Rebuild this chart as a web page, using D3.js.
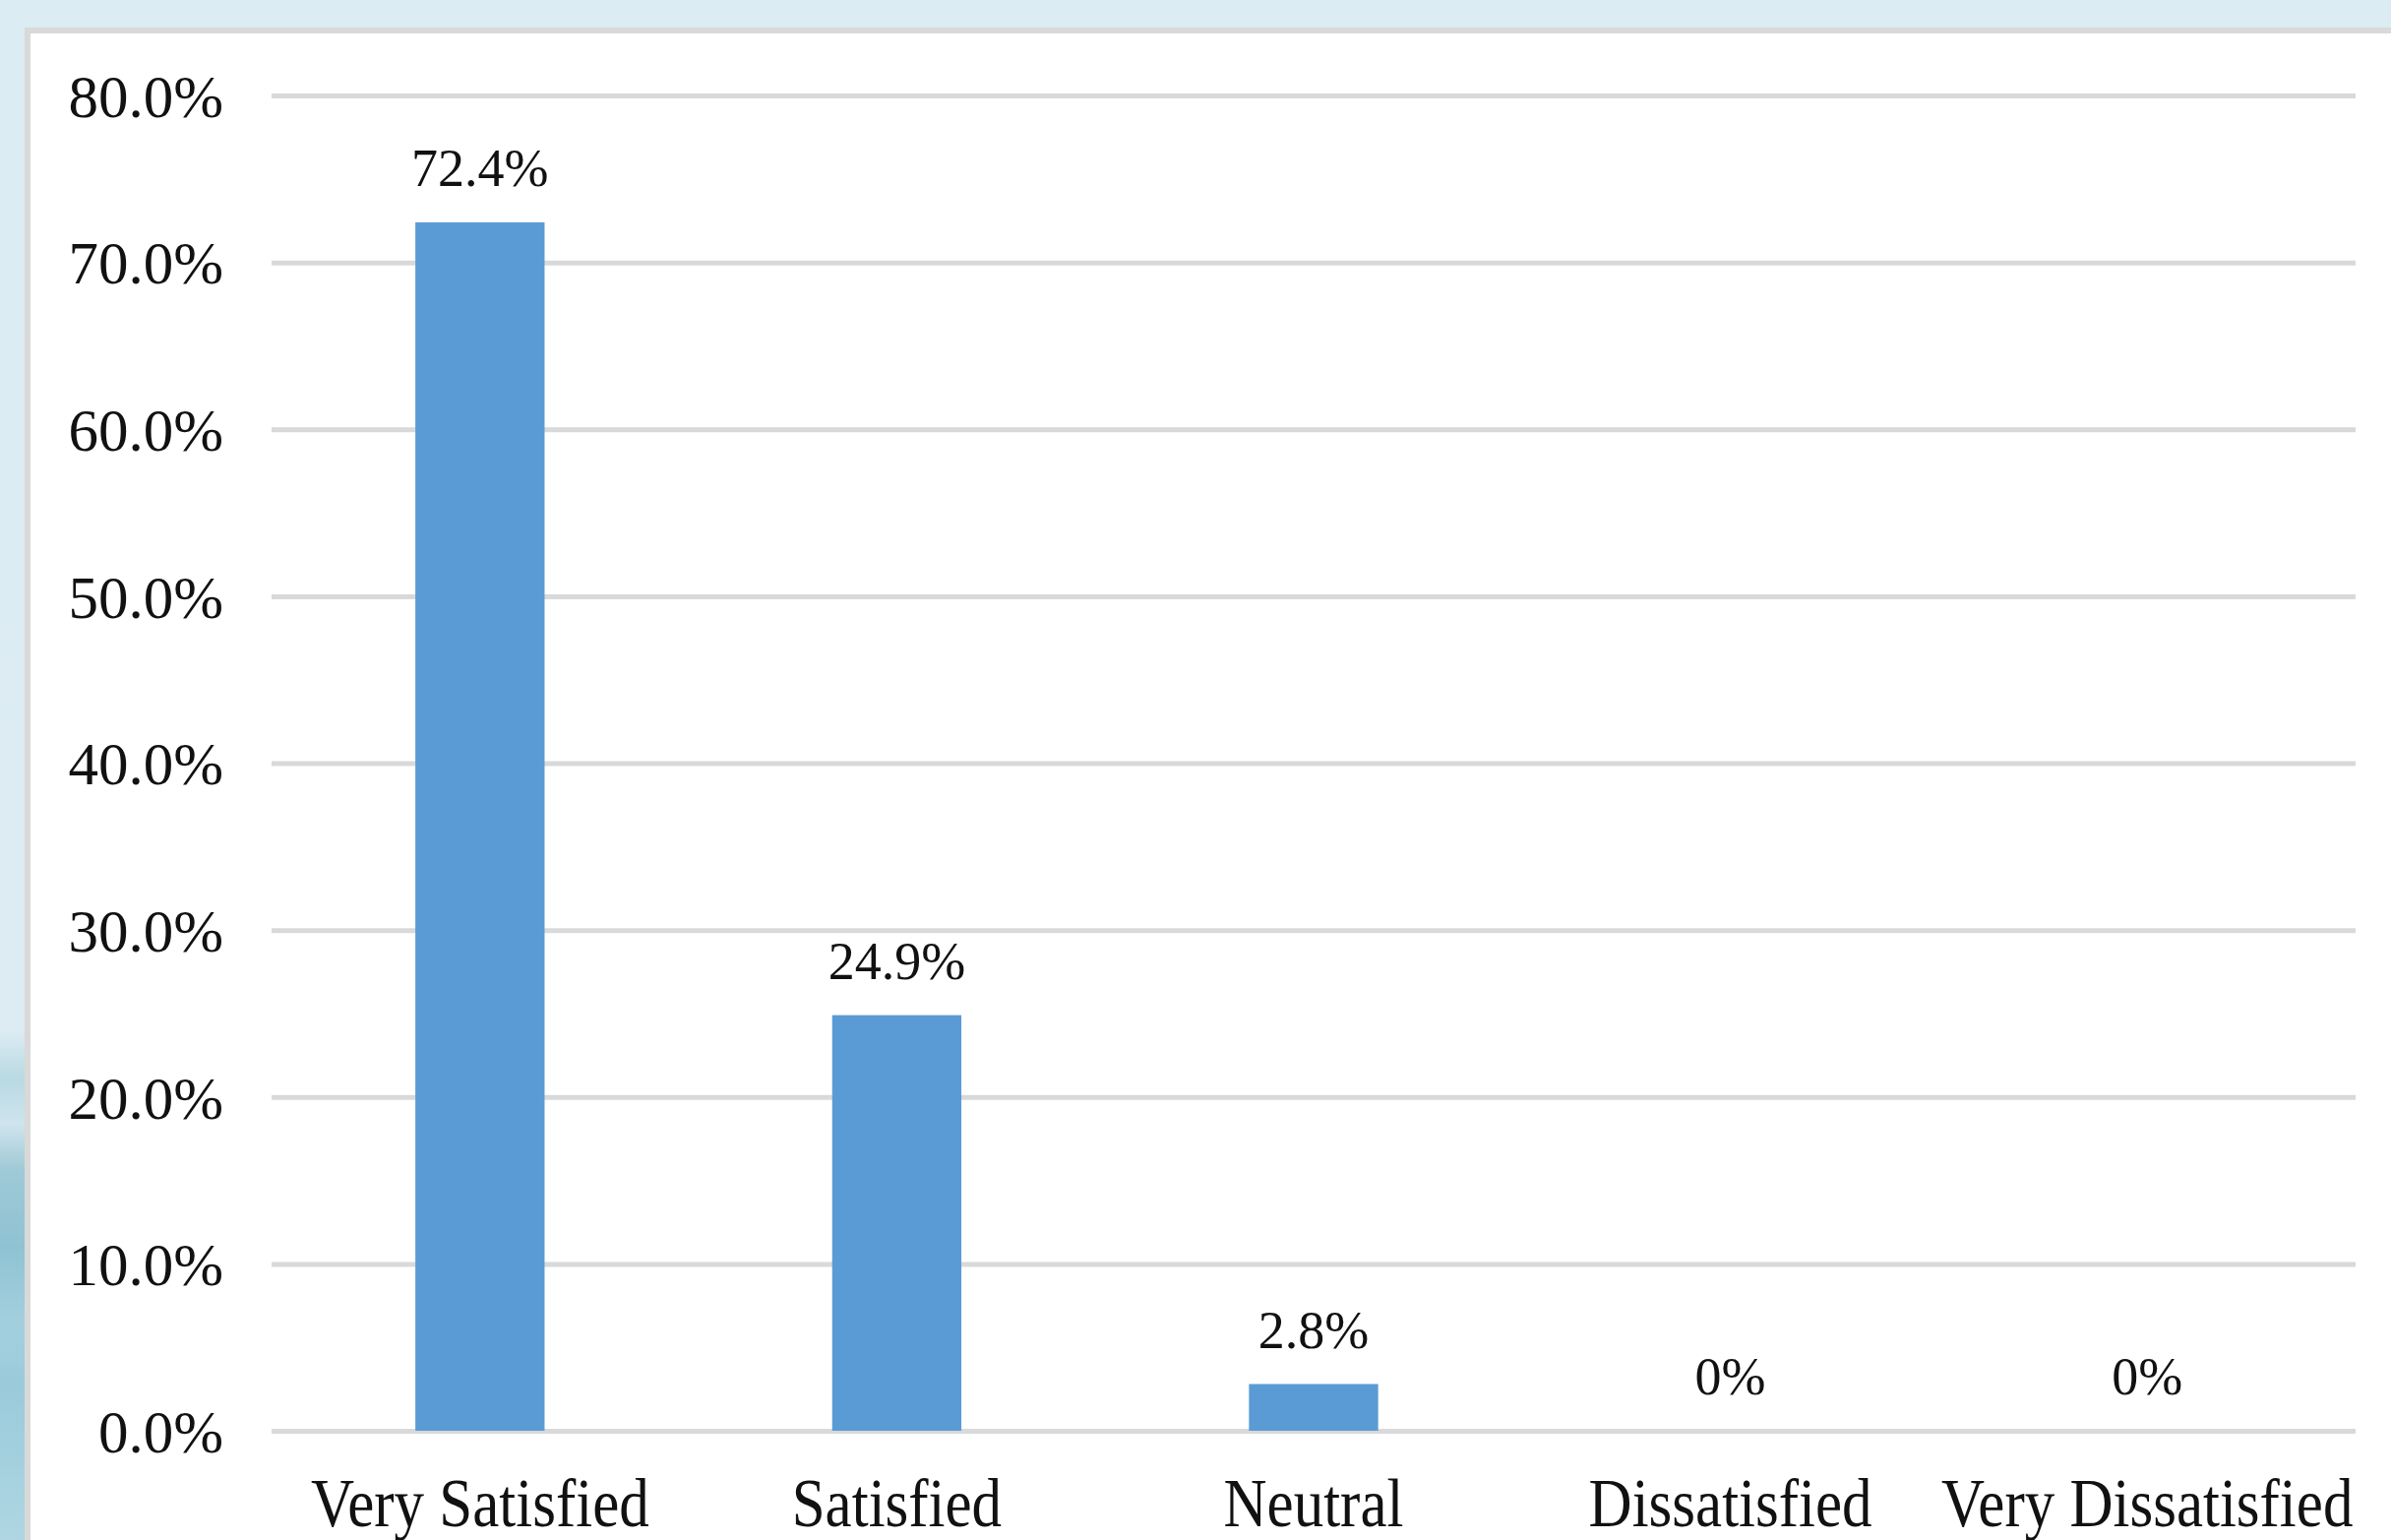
<!DOCTYPE html>
<html>
<head>
<meta charset="utf-8">
<script src="https://cdn.jsdelivr.net/npm/d3@7"></script>
<style>
  html, body { margin: 0; padding: 0; background: #dbecf2; }
  svg { display: block; }
</style>
</head>
<body>
<div id="chart"></div>
<script>
'use strict'

// data
var categories = ['Very Satisfied', 'Satisfied', 'Neutral', 'Dissatisfied', 'Very Dissatisfied'];
var shares = [0.724, 0.249, 0.028, 0, 0];
var yTicks = [0, 0.1, 0.2, 0.3, 0.4, 0.5, 0.6, 0.7, 0.8];

var WIDTH = 2430;
var HEIGHT = 1565;
var PLOT_LEFT = 276, PLOT_RIGHT = 2394;
var PLOT_TOP = 97, PLOT_BOTTOM = 1454;
var FONT = '"Liberation Serif", "Times New Roman", serif';

var svg = d3.select('#chart').append('svg')
  .attr('width', WIDTH)
  .attr('height', HEIGHT);

// page background + left strip
var defs = svg.append('defs');
var grad = defs.append('linearGradient')
  .attr('id', 'strip').attr('x1', 0).attr('y1', 0).attr('x2', 0).attr('y2', 1);
[[0, '#dbecf2'], [0.67, '#dcecf2'], [0.7, '#b9d9e3'], [0.73, '#cfe4ec'],
 [0.76, '#9fc9d6'], [0.81, '#8fc3d3'], [0.86, '#a4d0de'], [0.9, '#9acbdb'], [1, '#afd6e2']]
  .forEach(function (s) {
    grad.append('stop').attr('offset', s[0]).attr('stop-color', s[1]);
  });

svg.append('rect')
  .attr('x', 0).attr('y', 0).attr('width', WIDTH).attr('height', HEIGHT)
  .attr('fill', '#dbecf2');
svg.append('rect')
  .attr('x', 0).attr('y', 0).attr('width', 26).attr('height', HEIGHT)
  .attr('fill', 'url(#strip)');

// white chart card with grey edge
svg.append('rect')
  .attr('x', 28).attr('y', 31)
  .attr('width', WIDTH + 20).attr('height', HEIGHT + 20)
  .attr('fill', '#ffffff')
  .attr('stroke', '#d9d9d9')
  .attr('stroke-width', 6);

var x = d3.scaleBand()
  .domain(categories)
  .range([PLOT_LEFT, PLOT_RIGHT])
  .paddingInner(0.69)
  .paddingOuter(0.345);

var y = d3.scaleLinear()
  .domain([0, 0.8])
  .range([PLOT_BOTTOM, PLOT_TOP]);

// gridlines + tick labels
var yAxis = svg.append('g')
  .attr('transform', 'translate(' + PLOT_LEFT + ',0)')
  .call(d3.axisLeft(y)
    .tickValues(yTicks)
    .tickSize(-(PLOT_RIGHT - PLOT_LEFT))
    .tickPadding(49)
    .tickFormat(d3.format('.1%')));

yAxis.select('.domain').remove();
yAxis.selectAll('.tick line')
  .attr('stroke', '#d9d9d9')
  .attr('stroke-width', 5);
yAxis.selectAll('.tick text')
  .attr('font-family', FONT)
  .attr('font-size', '61px')
  .attr('fill', '#111')
  .attr('dy', '0.35em');

// bars
svg.selectAll('rect.bar')
  .data(shares)
  .enter()
  .append('rect')
  .attr('class', 'bar')
  .attr('x', function (d, i) { return x(categories[i]); })
  .attr('y', function (d) { return y(d); })
  .attr('width', x.bandwidth())
  .attr('height', function (d) { return y(0) - y(d); })
  .attr('fill', '#5b9bd5');

// value labels
svg.selectAll('text.val')
  .data(shares)
  .enter()
  .append('text')
  .attr('class', 'val')
  .text(function (d) { return d === 0 ? '0%' : d3.format('.1%')(d); })
  .attr('x', function (d, i) { return x(categories[i]) + x.bandwidth() / 2; })
  .attr('y', function (d) { return y(d) - 37; })
  .attr('text-anchor', 'middle')
  .attr('font-family', FONT)
  .attr('font-size', '54px')
  .attr('fill', '#111');

// category labels
svg.selectAll('text.cat')
  .data(categories)
  .enter()
  .append('text')
  .attr('class', 'cat')
  .text(function (d) { return d; })
  .attr('text-anchor', 'middle')
  .attr('font-family', FONT)
  .attr('font-size', '61px')
  .attr('fill', '#111')
  .attr('transform', function (d) {
    return 'translate(' + (x(d) + x.bandwidth() / 2) + ',' + (PLOT_BOTTOM + 97) + ') scale(1,1.15)';
  });
</script>
</body>
</html>
